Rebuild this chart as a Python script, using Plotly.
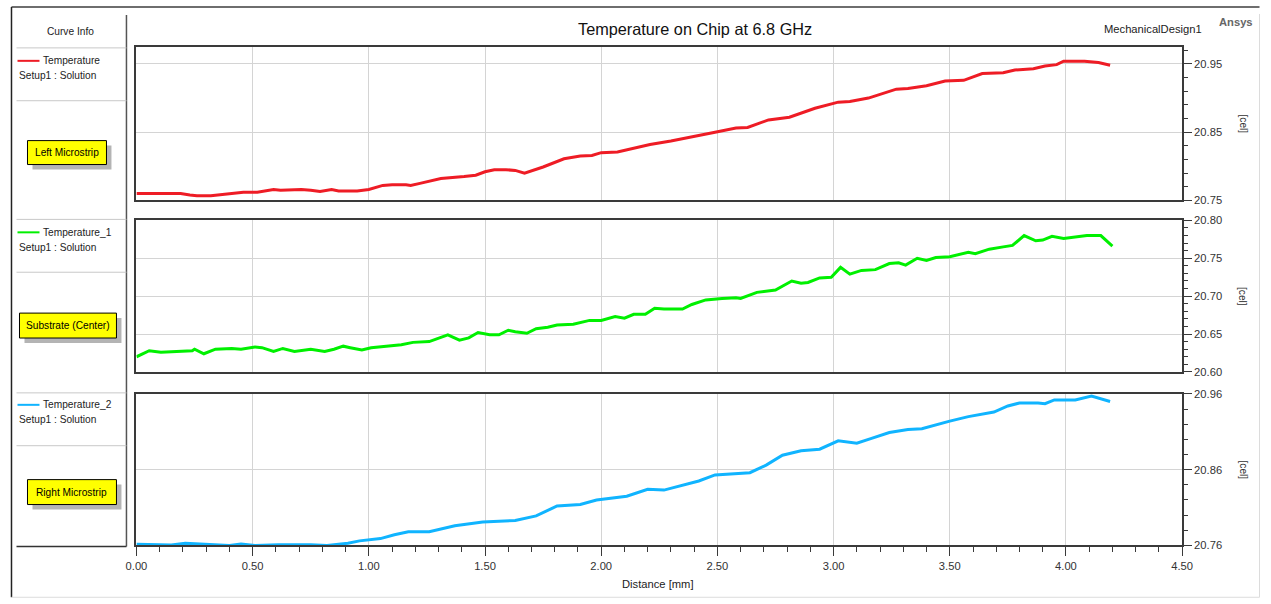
import plotly.graph_objects as go

# ---------------- data ----------------
dist_left = [0.00, 0.10, 0.19, 0.23, 0.26, 0.32, 0.39, 0.46, 0.52, 0.59, 0.62, 0.67, 0.71,
             0.75, 0.79, 0.84, 0.87, 0.95, 1.00, 1.06, 1.10, 1.16, 1.18, 1.22, 1.31, 1.41,
             1.46, 1.50, 1.54, 1.59, 1.63, 1.67, 1.75, 1.84, 1.91, 1.96, 2.00, 2.07, 2.12,
             2.21, 2.30, 2.41, 2.49, 2.58, 2.63, 2.72, 2.81, 2.92, 3.02, 3.07, 3.15, 3.27,
             3.32, 3.40, 3.48, 3.56, 3.64, 3.73, 3.78, 3.86, 3.91, 3.96, 3.99, 4.08, 4.14, 4.19]
temp_left = [20.760, 20.760, 20.760, 20.758, 20.757, 20.757, 20.760, 20.762, 20.762, 20.766,
             20.765, 20.766, 20.766, 20.765, 20.763, 20.766, 20.764, 20.764, 20.766, 20.772,
             20.773, 20.773, 20.772, 20.775, 20.782, 20.785, 20.787, 20.792, 20.795, 20.795,
             20.794, 20.790, 20.799, 20.811, 20.815, 20.816, 20.820, 20.821, 20.825, 20.832,
             20.837, 20.844, 20.850, 20.856, 20.857, 20.868, 20.872, 20.885, 20.894, 20.895,
             20.900, 20.913, 20.914, 20.918, 20.925, 20.926, 20.936, 20.937, 20.941, 20.943,
             20.947, 20.949, 20.954, 20.954, 20.952, 20.948]

dist_sub = [0.00, 0.055, 0.105, 0.15, 0.24, 0.25, 0.29, 0.34, 0.41, 0.45, 0.51, 0.54, 0.59,
            0.63, 0.68, 0.75, 0.81, 0.85, 0.89, 0.92, 0.97, 1.01, 1.07, 1.14, 1.19, 1.26,
            1.34, 1.39, 1.43, 1.47, 1.52, 1.56, 1.60, 1.63, 1.68, 1.72, 1.77, 1.81, 1.88,
            1.92, 1.95, 2.00, 2.06, 2.10, 2.14, 2.19, 2.23, 2.27, 2.35, 2.39, 2.45, 2.52,
            2.58, 2.60, 2.67, 2.75, 2.82, 2.86, 2.89, 2.94, 2.99, 3.03, 3.07, 3.12, 3.18,
            3.24, 3.28, 3.31, 3.36, 3.40, 3.44, 3.50, 3.58, 3.61, 3.67, 3.73, 3.77, 3.82,
            3.87, 3.90, 3.94, 3.99, 4.05, 4.09, 4.15, 4.20]
temp_sub = [20.620, 20.628, 20.626, 20.627, 20.628, 20.630, 20.624, 20.630, 20.631, 20.630,
            20.633, 20.632, 20.627, 20.631, 20.627, 20.630, 20.627, 20.630, 20.634, 20.632,
            20.629, 20.632, 20.634, 20.636, 20.639, 20.640, 20.649, 20.642, 20.645, 20.652,
            20.649, 20.649, 20.655, 20.653, 20.651, 20.657, 20.659, 20.662, 20.663, 20.666,
            20.668, 20.668, 20.673, 20.671, 20.676, 20.676, 20.684, 20.683, 20.683, 20.689,
            20.695, 20.697, 20.698, 20.697, 20.705, 20.708, 20.720, 20.717, 20.718, 20.724,
            20.725, 20.738, 20.729, 20.734, 20.735, 20.743, 20.744, 20.741, 20.750, 20.747,
            20.751, 20.752, 20.758, 20.756, 20.762, 20.765, 20.767, 20.780, 20.773, 20.774,
            20.779, 20.776, 20.778, 20.780, 20.780, 20.766]

dist_right = [0.00, 0.09, 0.15, 0.21, 0.34, 0.40, 0.45, 0.51, 0.61, 0.75, 0.82, 0.91, 0.96,
              1.05, 1.11, 1.17, 1.26, 1.37, 1.49, 1.63, 1.72, 1.81, 1.91, 1.98, 2.11, 2.20,
              2.27, 2.33, 2.42, 2.49, 2.58, 2.64, 2.71, 2.78, 2.86, 2.94, 3.02, 3.10, 3.16,
              3.24, 3.32, 3.38, 3.50, 3.58, 3.69, 3.75, 3.80, 3.88, 3.91, 3.95, 4.04, 4.11, 4.19]
temp_right = [20.7614, 20.7614, 20.7606, 20.763, 20.761, 20.760, 20.762, 20.760, 20.761,
              20.761, 20.760, 20.763, 20.766, 20.769, 20.774, 20.778, 20.778, 20.786, 20.791,
              20.793, 20.799, 20.812, 20.814, 20.820, 20.825, 20.834, 20.833, 20.838, 20.845,
              20.853, 20.855, 20.856, 20.866, 20.879, 20.885, 20.887, 20.898, 20.895, 20.901,
              20.909, 20.913, 20.914, 20.924, 20.930, 20.936, 20.944, 20.948, 20.948, 20.947,
              20.952, 20.952, 20.957, 20.950]

series_names = ["Temperature", "Temperature_1", "Temperature_2"]
series_colors = ["#EE1C25", "#00F000", "#10B4FF"]
panel_labels = ["Left Microstrip", "Substrate (Center)", "Right Microstrip"]
y_ranges = [[20.75, 20.975], [20.60, 20.80], [20.76, 20.96]]
y_ticks = [[20.75, 20.85, 20.95], [20.60, 20.65, 20.70, 20.75, 20.80], [20.76, 20.86, 20.96]]
y_minor = [0.02, 0.01, 0.02]
x_ticks = [0.0, 0.5, 1.0, 1.5, 2.0, 2.5, 3.0, 3.5, 4.0, 4.5]

W, H = 1271, 604
FONT = "Liberation Sans, Arial, sans-serif"

# the photograph maps page pixels to image pixels as img = S*page + O;
# positions below are given in image pixels and converted back.
S = 0.983
OX, OY = 10.5, 5.0
FS = 1 / S  # font scale


def px(x):
    p = (x - OX) / S
    p = min(max(p, 0.5), W - 0.5)
    return p / W


def py(y):
    p = (y - OY) / S
    p = min(max(p, 0.5), H - 0.5)
    return 1 - p / H


def fs(v):
    return round(v * FS, 2)


# plot panel pixel boxes (top, bottom) in image pixels
panels = [(46, 200), (220, 372), (394, 546)]
XL, XR = 136, 1182

fig = go.Figure()
data = [(dist_left, temp_left), (dist_sub, temp_sub), (dist_right, temp_right)]
for i, (d, t) in enumerate(data):
    sfx = "" if i == 0 else str(i + 1)
    fig.add_trace(go.Scatter(x=d, y=t, mode="lines", name=series_names[i],
                             line=dict(color=series_colors[i], width=3),
                             xaxis="x" + sfx, yaxis="y" + sfx, showlegend=False))

layout = dict(width=W, height=H, autosize=False, margin=dict(l=0, r=0, t=0, b=0),
              paper_bgcolor="white", plot_bgcolor="white",
              font=dict(family=FONT, size=fs(11), color="#333333"))

for i in range(3):
    sfx = "" if i == 0 else str(i + 1)
    top, bot = panels[i]
    bottom_panel = (i == 2)
    layout["xaxis" + sfx] = dict(
        domain=[px(XL), px(XR)], range=[0, 4.5], anchor="y" + sfx,
        tickvals=x_ticks, tickformat=".2f",
        showgrid=True, gridcolor="#D4D4D4", gridwidth=1,
        zeroline=False, showline=True, linecolor="#3A3A3A", linewidth=1.5, mirror=True,
        showticklabels=bottom_panel,
        ticks="outside" if bottom_panel else "", ticklen=9, tickcolor="#3A3A3A", tickwidth=1,
        minor=dict(dtick=0.1, ticks="outside" if bottom_panel else "", ticklen=5,
                   tickcolor="#3A3A3A", showgrid=False),
        tickfont=dict(size=fs(11), color="#333333"), fixedrange=True,
    )
    r = y_ranges[i]
    layout["yaxis" + sfx] = dict(
        domain=[py(bot), py(top)], range=r, anchor="x" + sfx, side="right",
        tickvals=y_ticks[i], tickformat=".2f",
        showgrid=True, gridcolor="#D4D4D4", gridwidth=1,
        zeroline=False, showline=True, linecolor="#3A3A3A", linewidth=1.5, mirror=True,
        ticks="outside", ticklen=8, tickcolor="#3A3A3A", tickwidth=1,
        minor=dict(dtick=y_minor[i], tick0=r[0], ticks="outside", ticklen=4,
                   tickcolor="#3A3A3A", showgrid=False),
        tickfont=dict(size=fs(11), color="#333333"), fixedrange=True,
    )

shapes = []


def hline(x0, x1, y, color, width):
    shapes.append(dict(type="line", xref="paper", yref="paper", x0=px(x0), x1=px(x1),
                       y0=py(y), y1=py(y), line=dict(color=color, width=width)))


def vline(x, y0, y1, color, width):
    shapes.append(dict(type="line", xref="paper", yref="paper", x0=px(x), x1=px(x),
                       y0=py(y0), y1=py(y1), line=dict(color=color, width=width)))


# outer frame
hline(7, 1271, 6, "#6E6E6E", 2)
vline(7, 6, 598, "#222222", 1.5)
vline(1264, 13, 598, "#DCDCDC", 1)
hline(7, 1264, 598, "#DCDCDC", 1)
# curve info panel
vline(126, 14, 547, "#555555", 1.5)
hline(16, 126, 547, "#333333", 1.5)
for yy in [47, 100, 219, 272, 393, 446]:
    hline(16, 126, yy, "#C8C8C8", 1)

legend_rows = [60, 232, 405]
boxes = [(27, 106, 140, 164), (19, 116, 313, 338), (27, 116, 480, 505)]
annotations = []


def label(text, x, y, size, color, xanchor="left", angle=0):
    annotations.append(dict(text=text, xref="paper", yref="paper", x=px(x), y=py(y),
                            xanchor=xanchor, yanchor="middle", showarrow=False, textangle=angle,
                            font=dict(size=fs(size), color=color, family=FONT)))


for i in range(3):
    ly = legend_rows[i]
    hline(17, 39, ly, series_colors[i], 2)
    label(series_names[i], 41, ly, 10, "#222222")
    label("Setup1 : Solution", 17, ly + 15, 10, "#222222")
    x0, x1, y0, y1 = boxes[i]
    shapes.append(dict(type="rect", xref="paper", yref="paper", x0=px(x0 + 5), x1=px(x1 + 5),
                       y0=py(y0 + 5), y1=py(y1 + 5), line=dict(width=0), fillcolor="#B4B4B4"))
    shapes.append(dict(type="rect", xref="paper", yref="paper", x0=px(x0), x1=px(x1),
                       y0=py(y0), y1=py(y1), line=dict(color="#000000", width=1), fillcolor="#FFFF00"))
    label(panel_labels[i], (x0 + x1) / 2, (y0 + y1) / 2, 10, "#000000", xanchor="center")
    top, bot = panels[i]
    label("[cel]", 1243, (top + bot) / 2, 10, "#333333", xanchor="center", angle=90)

label("Curve Info", 70, 31, 10, "#222222", xanchor="center")
label("Temperature on Chip at 6.8 GHz", 695, 28, 16, "#111111", xanchor="center")
label("MechanicalDesign1", 1204, 28, 11, "#222222", xanchor="right")
label("<b>Ansys</b>", 1236, 21, 11, "#666666", xanchor="center")
label("Distance [mm]", 658, 585, 11, "#222222", xanchor="center")

layout["shapes"] = shapes
layout["annotations"] = annotations
fig.update_layout(**layout)
fig.write_html("out.html", config={"displayModeBar": False},
               post_script="document.body.style.margin='0';document.body.style.overflow='hidden';")
